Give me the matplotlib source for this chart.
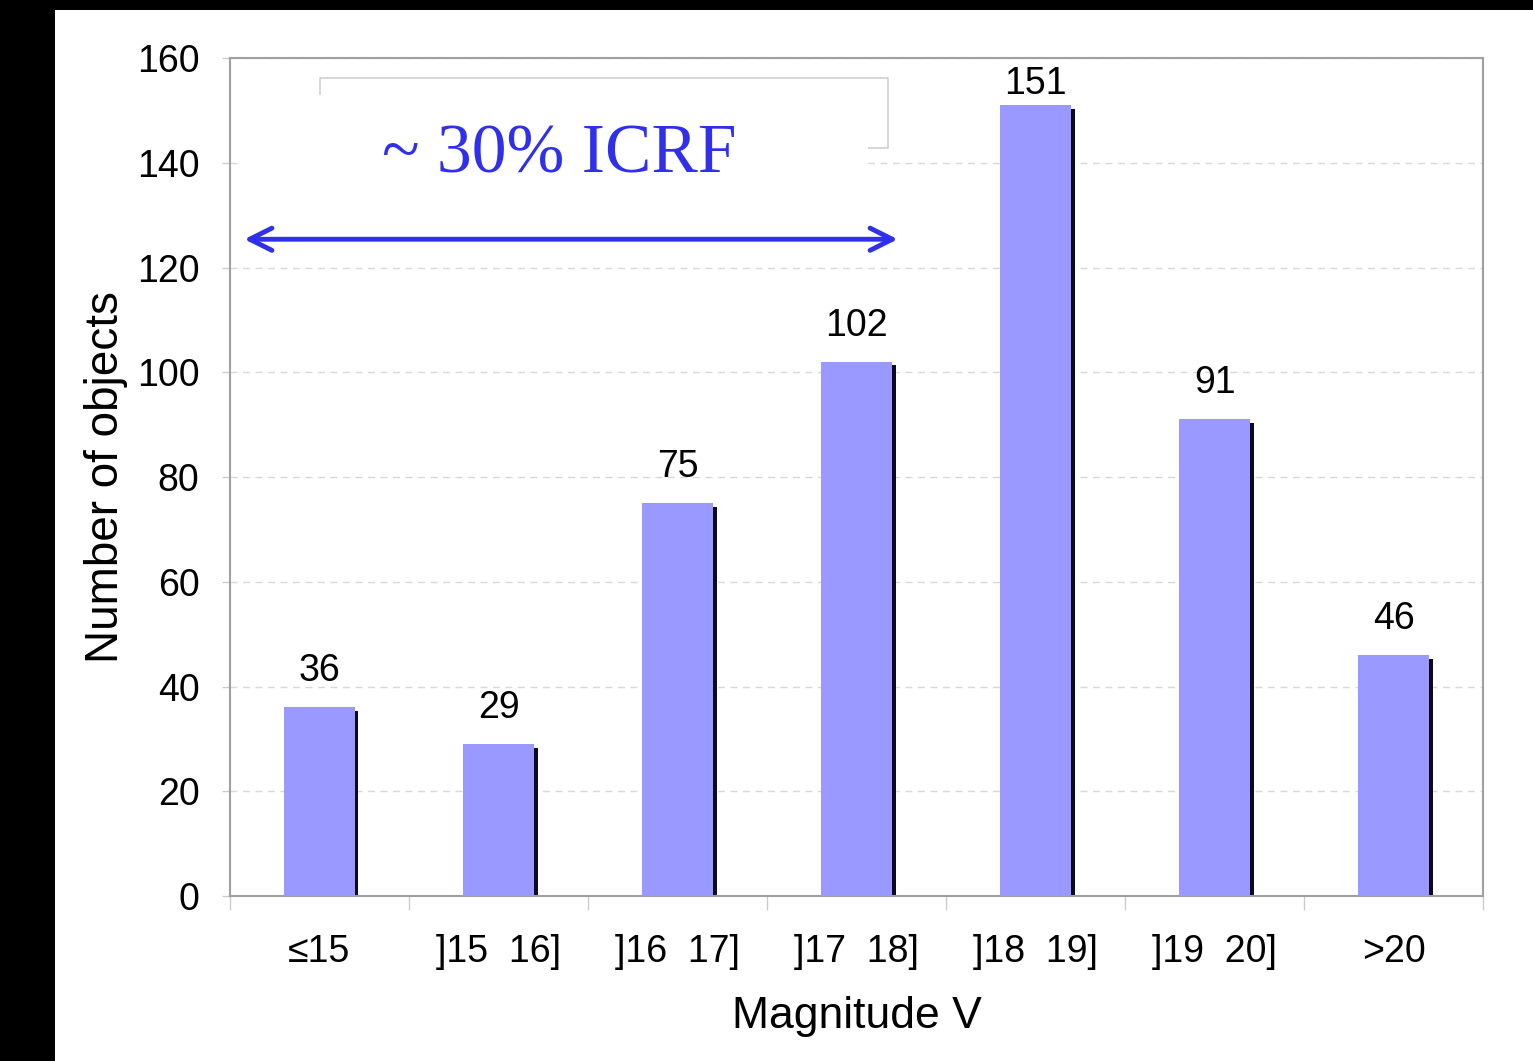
import numpy as np
import matplotlib.pyplot as plt
from matplotlib.patches import Rectangle
import matplotlib.ticker as ticker

plt.rcParams['font.family'] = ['Liberation Sans', 'DejaVu Sans']

categories = ['≤15', ']15  16]', ']16  17]', ']17  18]', ']18  19]', ']19  20]', '>20']
counts = [36, 29, 75, 102, 151, 91, 46]
yticks = [0, 20, 40, 60, 80, 100, 120, 140, 160]

BAR_COLOR = '#9999ff'
BLUE = '#3030ec'
GRAY = '#a0a0a0'

fig = plt.figure(figsize=(15.33, 10.61), dpi=100, facecolor='black')
# white page on the black background
fig.patches.append(Rectangle((55 / 1533, 0), 1, 1 - 10 / 1061,
                             transform=fig.transFigure, facecolor='white',
                             edgecolor='none', zorder=-10))

ax = fig.add_axes([0.150, 0.1555, 0.8175, 0.7898])
ax.set_facecolor('white')

x = np.arange(len(categories))
w = 0.40
# dark drop shadow on the right edge of each bar
ax.bar(x + 0.018, np.array(counts) - 0.7, width=w, color='#0a0a20', zorder=2)
ax.bar(x, counts, width=w, color=BAR_COLOR, zorder=3)

# value labels, the tallest one squeezed under the top of the frame
for xi, v in zip(x, counts):
    ax.text(xi, min(v + 6.9, 155), str(v), ha='center', va='center',
            fontsize=27, zorder=5)

ax.set_xlim(-0.5, len(categories) - 0.5)
ax.set_ylim(0, 160)
ax.set_yticks(yticks)
ax.set_xticks(x)
ax.set_xticklabels(categories)
ax.xaxis.set_minor_locator(ticker.FixedLocator(np.arange(-0.5, len(categories), 1.0)))
ax.tick_params(axis='x', which='major', length=0, pad=27, labelsize=27)
ax.tick_params(axis='x', which='minor', length=10, color='#cccccc', width=1)
ax.tick_params(axis='y', length=6, color='#cccccc', width=1, pad=16, labelsize=27)

ax.yaxis.grid(True, linestyle=(0, (5, 4)), color='#d8d8d8', linewidth=1, zorder=0)
ax.set_axisbelow(True)
for s in ax.spines.values():
    s.set_color(GRAY)
    s.set_linewidth(1.5)

ax.set_xlabel('Magnitude V', fontsize=32, labelpad=19)
ax.set_ylabel('Number of objects', fontsize=33, labelpad=6)

# faint frame behind the ICRF note, partly covered by its white box
ax.add_patch(Rectangle((0.003, 142.8), 3.173, 13.4, fill=False,
                       edgecolor='#d0d0d0', linewidth=1.2, zorder=4))
ax.add_patch(Rectangle((-0.444, 131.0), 3.508, 21.9, facecolor='white',
                       edgecolor='none', zorder=4.5))

ax.text(1.34, 141.3, '~ 30% ICRF', ha='center', va='center', color=BLUE,
        fontsize=50, family='Liberation Serif', zorder=6)
ax.annotate('', xy=(-0.42, 125.4), xytext=(3.23, 125.4),
            arrowprops=dict(arrowstyle='<->', color=BLUE, lw=3.5,
                            mutation_scale=40, shrinkA=0, shrinkB=0),
            zorder=6)

fig.savefig('out.png', dpi=100, facecolor=fig.get_facecolor())
